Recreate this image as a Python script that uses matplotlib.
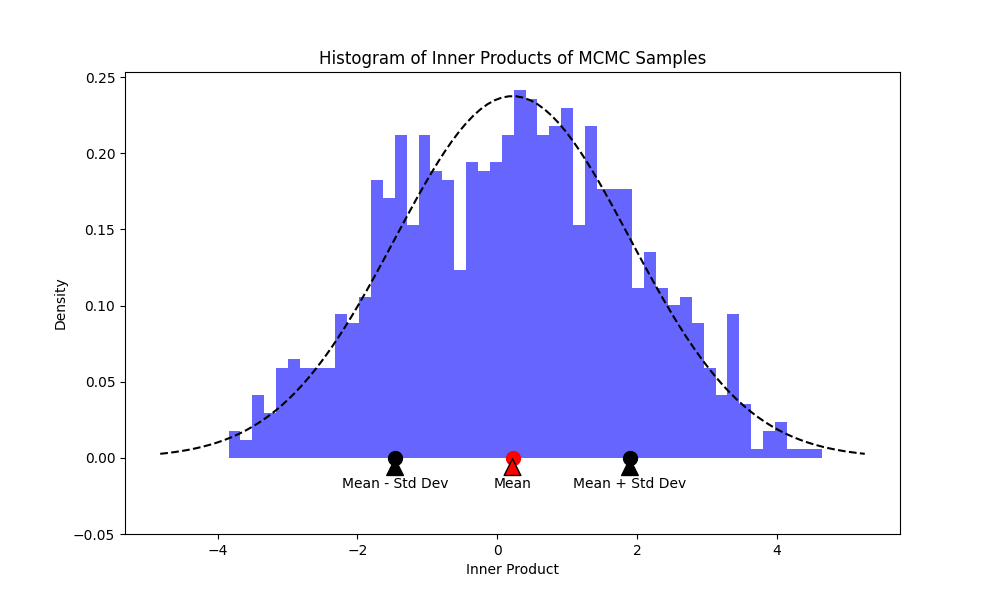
import numpy as np
import matplotlib
matplotlib.use('Agg')
import matplotlib.pyplot as plt

# histogram counts (1000 samples, 50 bins)
counts = [3, 2, 7, 5, 10, 11, 10, 10, 10, 16,
          15, 18, 31, 29, 36, 26, 36, 32, 31, 21,
          33, 32, 33, 36, 41, 40, 36, 37, 39, 26,
          37, 30, 30, 30, 19, 23, 19, 17, 18, 15,
          10, 7, 16, 6, 1, 3, 4, 1, 1, 1]
bin_lo, bin_hi = -3.843, 4.655
mean_ip = 0.22
std_ip = 1.68

edges = np.linspace(bin_lo, bin_hi, len(counts) + 1)
centers = (edges[:-1] + edges[1:]) / 2

fig, ax = plt.subplots(figsize=(10, 6))
ax.hist(centers, bins=edges, weights=counts, density=True, color='blue', alpha=0.6)

x = np.linspace(mean_ip - 3 * std_ip, mean_ip + 3 * std_ip, 100)
pdf = np.exp(-0.5 * ((x - mean_ip) / std_ip) ** 2) / (std_ip * np.sqrt(2 * np.pi))
ax.plot(x, pdf, 'k--')

marks = [(mean_ip, 'red', 'Mean'),
         (mean_ip - std_ip, 'black', 'Mean - Std Dev'),
         (mean_ip + std_ip, 'black', 'Mean + Std Dev')]
for xm, col, lab in marks:
    ax.plot(xm, 0, 'o', color=col, markersize=10)
    ax.annotate(lab, xy=(xm, 0), xytext=(xm, -0.02), ha='center',
                arrowprops=dict(facecolor=col, shrink=0.05))

ax.set_ylim(bottom=-0.05)
ax.set_title('Histogram of Inner Products of MCMC Samples')
ax.set_xlabel('Inner Product')
ax.set_ylabel('Density')
fig.savefig('out.png', dpi=100)
